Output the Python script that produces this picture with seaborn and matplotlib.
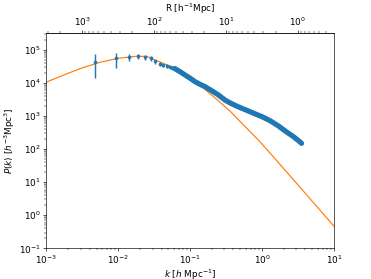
import numpy as np
import pandas as pd
import matplotlib
matplotlib.use("Agg")
import matplotlib.pyplot as plt
import seaborn as sns

# Measured power spectrum (points with error bars)
k_meas = [0.0047, 0.0094, 0.0141, 0.0188, 0.0235, 0.0282, 0.0329, 0.0376,
          0.0423, 0.0470, 0.0517, 0.0564, 0.0611]
p_meas = [4.4e4, 5.6e4, 6.3e4, 6.6e4, 6.0e4, 5.6e4, 4.5e4, 3.8e4,
          3.5e4, 3.3e4, 3.1e4, 2.95e4, 2.75e4]
err_meas = [3.0e4, 2.7e4, 1.5e4, 1.2e4, 1.0e4, 8.0e3, 6.0e3, 5.0e3,
            4.0e3, 3.5e3, 3.0e3, 2.5e3, 2.0e3]

# Dense high-k part of the measurement
k_dense = [0.0611, 0.0726, 0.0853, 0.100, 0.117, 0.138, 0.161, 0.200, 0.247,
           0.306, 0.360, 0.446, 0.550, 0.680, 0.800, 1.00, 1.29, 1.70, 2.20,
           2.70, 3.37, 3.55]
p_dense = [2.75e4, 2.2e4, 1.74e4, 1.4e4, 1.1e4, 9.1e3, 7.8e3, 5.85e3, 4.37e3,
           3.05e3, 2.5e3, 2.0e3, 1.65e3, 1.36e3, 1.17e3, 9.6e2, 7.3e2, 5.0e2,
           3.3e2, 2.45e2, 1.66e2, 1.5e2]

# Linear theory curve
k_lin = [1.0e-3, 1.78e-3, 3.16e-3, 5.62e-3, 1.0e-2, 1.78e-2, 2.51e-2,
         3.55e-2, 5.01e-2, 7.08e-2, 0.1, 0.145, 0.26, 0.36, 0.94, 1.37,
         3.16, 10.0]
p_lin = [1.07e4, 1.78e4, 2.88e4, 4.27e4, 5.6e4, 6.45e4, 6.4e4,
         4.6e4, 3.4e4, 2.24e4, 1.38e4, 7.8e3, 2.63e3, 1.41e3, 1.66e2, 6.6e1,
         8.3, 0.47]

plt.rcParams['font.family'] = ['DejaVu Sans']
plt.rcParams['font.size'] = 11
fig, ax = plt.subplots(figsize=(371 / 58, 279 / 58), dpi=58)

lin = pd.DataFrame({"k": k_lin, "P": p_lin})
sns.lineplot(data=lin, x="k", y="P", ax=ax, color="C1", lw=1.5, sort=False,
             zorder=2)

dense = pd.DataFrame({"k": k_dense, "P": p_dense})
sns.lineplot(data=dense, x="k", y="P", ax=ax, color="C0", lw=6.5, sort=False,
             zorder=3, solid_capstyle="round", solid_joinstyle="round")
ax.errorbar(k_meas, p_meas, yerr=err_meas, fmt=".", color="C0", zorder=4,
            lw=1.8, ms=7)

ax.set_xscale("log")
ax.set_yscale("log")
ax.set_xlim(1e-3, 1e1)
ax.set_ylim(1e-1, 3.16e5)
ax.set_xlabel(r"$k$ [$h$ Mpc$^{-1}$]", labelpad=1)
ax.set_ylabel(r"$P(k)$ [$h^{-3}$Mpc$^3$]", labelpad=2)


def k2r(k):
    k = np.asarray(k, dtype=float)
    with np.errstate(divide="ignore", invalid="ignore"):
        return np.pi / k


sec = ax.secondary_xaxis("top", functions=(k2r, k2r))
sec.set_xlabel(r"R [h$^{-1}$Mpc]")

fig.savefig("out.png", dpi=58)
